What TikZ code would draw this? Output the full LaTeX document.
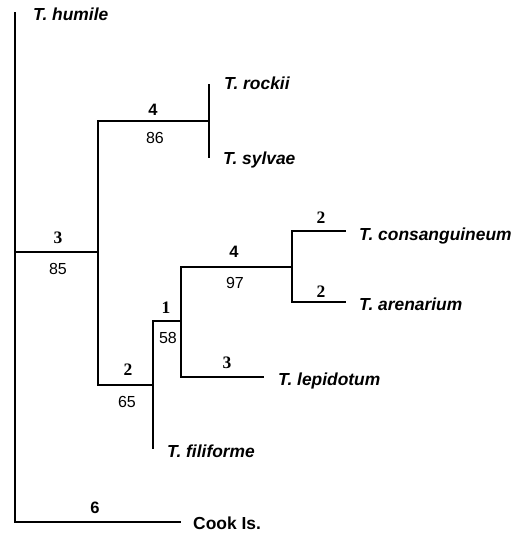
\documentclass[tikz,border=0pt]{standalone}
\usepackage{fontspec}
\setmainfont{Liberation Serif}
\setsansfont{Liberation Sans}
\begin{document}
\begin{tikzpicture}[x=1pt,y=-1pt,
  branch/.style={line width=2.9pt,line cap=rect},
  taxon/.style={anchor=base west,inner sep=0pt,font=\sffamily\bfseries\itshape\fontsize{17.4}{19}\selectfont},
  plain/.style={anchor=base west,inner sep=0pt,font=\sffamily\bfseries\fontsize{17.4}{19}\selectfont},
  boot/.style={anchor=center,inner sep=0pt,font=\sffamily\fontsize{16}{18}\selectfont},
  stepsn/.style={anchor=center,inner sep=0pt,font=\rmfamily\bfseries\fontsize{17.5}{18}\selectfont},
  stepss/.style={anchor=center,inner sep=0pt,font=\sffamily\bfseries\fontsize{16.5}{18}\selectfont}]
\useasboundingbox (0,0) rectangle (522,536);
% coordinates
\coordinate (rtop) at (15,13);
\coordinate (rbot) at (15,522);
\coordinate (cook) at (180,522);
\coordinate (n3) at (98,252);
\coordinate (n3r) at (15,252);
\coordinate (n4a) at (209,121);
\coordinate (rock) at (209,85);
\coordinate (sylv) at (209,157);
\coordinate (n2) at (153,385);
\coordinate (fili) at (153,448);
\coordinate (n1) at (181,321);
\coordinate (n1l) at (153,321);
\coordinate (n4b) at (292,267);
\coordinate (lep) at (263,377);
\coordinate (cons) at (345,231);
\coordinate (aren) at (345,302);
% branches
\draw[branch] (rtop) -- (rbot) -- (cook);
\draw[branch] (n3r) -- (n3);
\draw[branch] (n4a) -| (n3) |- (n2);
\draw[branch] (rock) -- (sylv);
\draw[branch] (n1l) -- (n1);
\draw[branch] (n1l) -- (fili);
\draw[branch] (n4b) -| (n1) |- (lep);
\draw[branch] (cons) -| (n4b |- cons) |- (aren);
\draw[branch] (n4b) -- (n4b |- cons);
% taxa
\node[taxon] (thum) at (33,20.5) {T. humile};
\node[taxon] (troc) at (224,89.5) {T. rockii};
\node[taxon] (tsyl) at (223,164) {T. sylvae};
\node[taxon] (tcon) at (359,240.5) {T. consanguineum};
\node[taxon] (tare) at (359,310.5) {T. arenarium};
\node[taxon] (tlep) at (278,385.5) {T. lepidotum};
\node[taxon] (tfil) at (167,457) {T. filiforme};
\node[plain] (tcook) at (193,529) {Cook Is.};
% step counts and bootstrap values
\node[stepsn] (s3) at (58,238) {3};
\node[boot] (b85) at (58,269) {85};
\node[stepss] (s4a) at (153,110) {4};
\node[boot] (b86) at (155,138) {86};
\node[stepsn] (s2) at (128,370) {2};
\node[boot] (b65) at (127,402) {65};
\node[stepsn] (s1) at (166,308) {1};
\node[boot] (b58) at (168,338) {58};
\node[stepss] (s4b) at (234,252) {4};
\node[boot] (b97) at (235,283) {97};
\node[stepsn] (s3b) at (227,363) {3};
\node[stepsn] (s2a) at (321,217.5) {2};
\node[stepsn] (s2b) at (321,291.5) {2};
\node[stepss] (s6) at (95,507.5) {6};
\end{tikzpicture}
\end{document}
